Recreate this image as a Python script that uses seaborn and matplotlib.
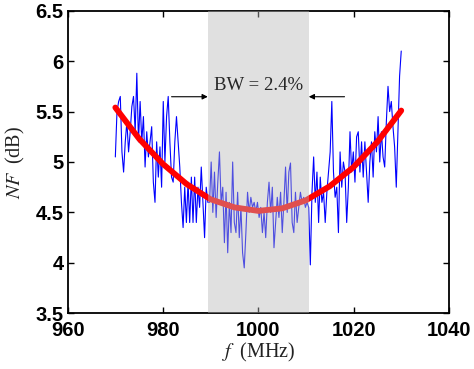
import numpy as np
import pandas as pd
import matplotlib
matplotlib.use("Agg")
import matplotlib.pyplot as plt
import seaborn as sns

# ---------------- data ----------------
f_start, f_stop = 970.0, 1030.0
nf_measured = [
    5.05, 5.5, 5.6, 5.65, 5.1, 4.9, 5.2, 5.4, 5.1, 5.3, 5.55, 5.65, 5.3, 5.88, 5.2,
    5.6, 5.2, 5.45, 4.95, 5.3, 5.05, 5.2, 5.35, 4.8, 4.6, 5.2, 4.85, 5.15, 4.75, 5.6,
    5.0, 5.45, 5.65, 5.2, 4.85, 4.8, 5.2, 5.45, 5.2, 4.95, 4.6, 4.35, 4.75, 4.4, 4.8,
    4.4, 4.85, 4.4, 4.85, 4.4, 4.75, 4.55, 4.95, 4.6, 4.25, 4.75, 4.6,
    4.6, 5.0, 4.5, 4.9, 4.45, 4.8, 5.1, 4.6, 4.75, 4.2, 4.7, 4.1, 4.6, 4.3, 5.0,
    4.4, 4.3, 4.7, 4.25, 4.55, 4.1, 3.95, 4.3, 4.7, 4.5, 4.65, 4.55, 4.6, 4.5, 4.6,
    4.45, 4.55, 4.3, 4.5, 4.25, 4.6, 4.8, 4.5, 4.75, 4.15, 4.4, 4.65, 4.45, 4.7, 4.3,
    4.6, 4.95, 4.5, 4.9, 4.99, 4.4, 4.3, 4.7, 4.4, 4.55, 4.7, 4.6, 4.65, 4.55, 4.6,
    4.55, 3.98, 4.7, 5.05, 4.6, 4.9, 4.4, 4.85, 4.6, 4.7, 4.4, 4.7, 4.9, 5.1, 5.6,
    4.9, 4.65, 4.75, 4.3, 5.1, 4.75, 5.0, 4.9, 4.4, 4.75, 5.3, 4.9, 5.1, 4.8, 5.25,
    5.3, 4.9, 5.2, 4.85, 5.2, 4.9, 4.6, 5.0, 5.2, 4.85, 5.3, 5.1, 5.45, 5.0, 5.3,
    5.05, 4.95, 5.4, 5.75, 5.5, 5.6, 5.35, 5.15, 4.75, 5.3, 5.85, 6.1,
]
fit_freq = [970, 975, 980, 985, 990, 995, 1000, 1005, 1010, 1015, 1020, 1025, 1030]
fit_nf = [5.54, 5.23, 4.98, 4.78, 4.63, 4.55, 4.515, 4.54, 4.62, 4.76, 4.95, 5.20, 5.51]
band_lo, band_hi = 989.4, 1010.6
bw_label = "BW = 2.4%"
x_ticks = [960, 980, 1000, 1020, 1040]
y_ticks = [3.5, 4, 4.5, 5, 5.5, 6, 6.5]
y_tick_labels = ["3.5", "4", "4.5", "5", "5.5", "6", "6.5"]

freq = np.linspace(f_start, f_stop, len(nf_measured))
df_meas = pd.DataFrame({"f": freq, "nf": nf_measured})
df_fit = pd.DataFrame({"f": fit_freq, "nf": fit_nf})

# ---------------- figure ----------------
sns.set_style("ticks")
plt.rcParams["mathtext.fontset"] = "stix"

fig = plt.figure(figsize=(4.74, 3.69), dpi=100)
ax = fig.add_axes([0.1428, 0.151, 0.8042, 0.820])

sns.lineplot(data=df_meas, x="f", y="nf", ax=ax, color="#0000ff", lw=0.8, zorder=2)
sns.lineplot(data=df_fit, x="f", y="nf", ax=ax, color="#ff0000", lw=4.2, zorder=3)

ax.axvspan(band_lo, band_hi, color="#b8b8b8", alpha=0.43, lw=0, zorder=4)

# BW annotation
serif = ["Liberation Serif", "DejaVu Serif"]
ax.text((band_lo + band_hi) / 2, 5.76, bw_label, ha="center", va="center",
        fontsize=13.5, family=serif, zorder=6)
ax.annotate("", xy=(band_lo, 5.647), xytext=(981.8, 5.647),
            arrowprops=dict(arrowstyle="-|>", color="black", lw=0.8,
                            mutation_scale=8, shrinkA=0, shrinkB=0), zorder=6)
ax.annotate("", xy=(band_hi, 5.647), xytext=(1018.1, 5.647),
            arrowprops=dict(arrowstyle="-|>", color="black", lw=0.8,
                            mutation_scale=8, shrinkA=0, shrinkB=0), zorder=6)

ax.set_xlim(960, 1040)
ax.set_ylim(3.5, 6.5)
ax.set_xticks(x_ticks)
ax.set_xticklabels([str(t) for t in x_ticks])
ax.set_yticks(y_ticks)
ax.set_yticklabels(y_tick_labels)

for lab in ax.get_xticklabels() + ax.get_yticklabels():
    lab.set_fontfamily(["Liberation Sans", "DejaVu Sans"])
    lab.set_fontweight("bold")
    lab.set_fontsize(14.5)

ax.tick_params(axis="both", direction="in", length=4, width=1.0,
               top=True, right=True, colors="black")
ax.tick_params(axis="x", pad=5.5)
ax.tick_params(axis="y", pad=3)
for sp in ax.spines.values():
    sp.set_visible(True)
    sp.set_linewidth(1.3)
    sp.set_color("black")

ax.set_xlabel(r"$f\;$ (MHz)", fontsize=14.5, family=serif, labelpad=1)
ax.set_ylabel(r"$NF\;$ (dB)", fontsize=14.5, family=serif, labelpad=6)
ax.xaxis.label.set_color("#222222")
ax.yaxis.label.set_color("#222222")

fig.savefig("out.png", dpi=100)
